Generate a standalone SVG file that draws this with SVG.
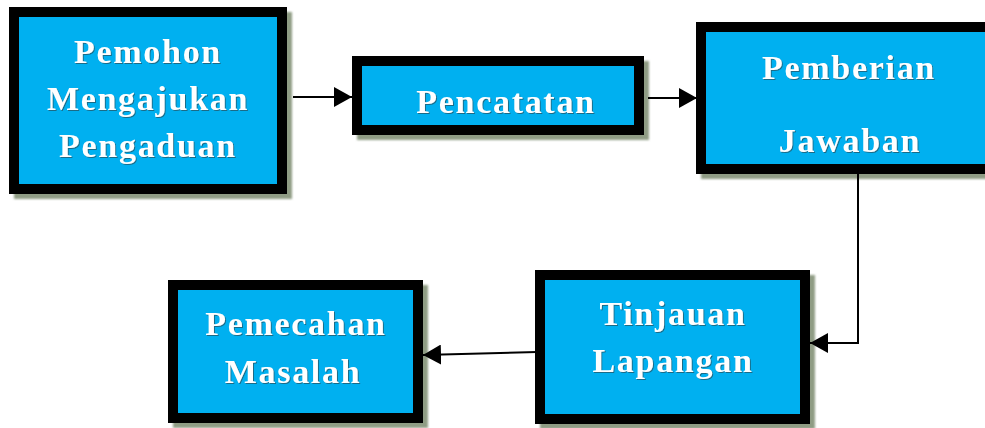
<svg xmlns="http://www.w3.org/2000/svg" width="985" height="428" viewBox="0 0 985 428">
<defs>
<marker id="ah" markerUnits="userSpaceOnUse" markerWidth="20" markerHeight="20" refX="18" refY="10" orient="auto">
<path d="M0,0 L18,10 L0,20 Z" fill="#000"/>
</marker>
<filter id="ts" x="-10%" y="-20%" width="120%" height="140%">
<feDropShadow dx="1" dy="1" stdDeviation="0.6" flood-color="#2a3a40" flood-opacity="0.6"/>
</filter>
<filter id="bs" x="-10%" y="-10%" width="120%" height="120%">
<feGaussianBlur stdDeviation="1"/>
</filter>
</defs>
<style>
.shadow{fill:#8f9c84;filter:url(#bs)}
.box{fill:#00B0F0;stroke:#000;stroke-width:10}
.lbl{font-family:"Liberation Serif","Times New Roman",serif;font-weight:bold;font-size:34px;fill:#fff;letter-spacing:1.7px;text-anchor:middle;filter:url(#ts)}
.con{fill:none;stroke:#000;stroke-width:2}
</style>
<rect width="985" height="428" fill="#fff"/>
<g id="node-pemohon">
<rect class="shadow" x="14" y="12" width="278" height="187"/>
<rect class="box" x="14" y="12" width="268" height="177"/>
<text class="lbl" x="148" y="63">Pemohon</text>
<text class="lbl" x="148" y="110">Mengajukan</text>
<text class="lbl" x="148" y="157">Pengaduan</text>
</g>
<g id="node-pencatatan">
<rect class="shadow" x="357" y="61" width="292" height="79"/>
<rect class="box" x="357" y="61" width="282" height="69"/>
<text class="lbl" x="506" y="113">Pencatatan</text>
</g>
<g id="node-pemberian">
<rect class="shadow" x="701" y="27" width="310" height="152"/>
<rect class="box" x="701" y="27" width="300" height="142"/>
<text class="lbl" x="849" y="79">Pemberian</text>
<text class="lbl" x="850" y="152">Jawaban</text>
</g>
<g id="node-tinjauan">
<rect class="shadow" x="540" y="275" width="275" height="154"/>
<rect class="box" x="540" y="275" width="265" height="144"/>
<text class="lbl" x="673" y="325">Tinjauan</text>
<text class="lbl" x="673" y="372">Lapangan</text>
</g>
<g id="node-pemecahan">
<rect class="shadow" x="173" y="285" width="255" height="143"/>
<rect class="box" x="173" y="285" width="245" height="133"/>
<text class="lbl" x="296" y="335">Pemecahan</text>
<text class="lbl" x="293" y="383">Masalah</text>
</g>
<g id="connectors">
<path class="con" d="M293 97 L352 97" marker-end="url(#ah)"/>
<path class="con" d="M648 98 L697 98" marker-end="url(#ah)"/>
<path class="con" d="M858 174 L858 343 L810 343" marker-end="url(#ah)"/>
<path class="con" d="M537 352 L423 355" marker-end="url(#ah)"/>
</g>
</svg>
